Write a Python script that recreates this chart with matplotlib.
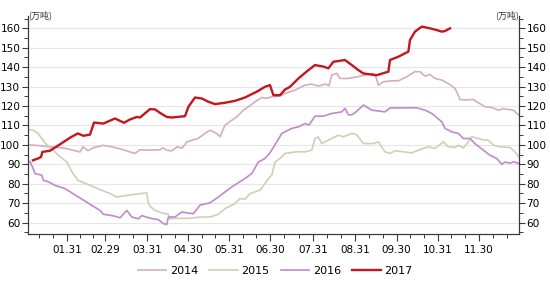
import matplotlib
matplotlib.use('Agg')
import matplotlib.pyplot as plt
import numpy as np

plt.rcParams['font.family'] = ['DejaVu Sans', 'Noto Sans CJK SC']

# x is a running trading-day index through the year, y in 10k tonnes
x14 = [1, 6, 11, 16, 19.5, 23.5, 26, 27.5, 30, 32.5, 37.5, 42, 46, 51, 53.5, 56, 61, 66, 67.5, 69.5,
       72, 74.5, 77, 79.5, 82, 85, 88.5, 91, 94.4, 96, 98.5, 101.9, 104.4, 107.7, 110.2, 113.5, 116.9,
       119.4, 121.9, 126, 128.5, 133.5, 138.5, 141.9, 145.2, 148.5, 150.5, 151.9, 154.4, 156, 160, 165,
       168.5, 172.5, 174, 175.2, 177.7, 181.9, 185.2, 189.4, 193.5, 196, 198.5, 201, 203.5, 206.9,
       210.2, 213.5, 214.5, 216, 218.5, 222.7, 225.2, 228.5, 231.9, 235.2, 237.7, 240.2, 242.7, 244.4, 245.5]
y14 = [100.0, 99.6, 99.0, 98.6, 98.1, 97.0, 96.4, 99.0, 97.0, 98.5, 99.8, 99.0, 98.0, 96.4, 95.6, 97.5,
       97.3, 97.5, 98.5, 97.2, 97.0, 99.0, 98.3, 101.6, 102.4, 103.3, 105.9, 107.6, 105.9, 104.2, 110.2,
       112.7, 114.4, 117.9, 119.6, 122.2, 124.4, 124.0, 124.8, 125.1, 126.5, 128.2, 130.8, 131.3, 130.3,
       131.3, 130.5, 136.0, 136.8, 134.2, 134.2, 135.1, 136.0, 136.8, 135.0, 130.8, 132.5, 133.0, 133.0,
       135.1, 137.7, 137.7, 135.4, 136.3, 134.2, 133.4, 131.6, 129.1, 127.0, 123.4, 123.1, 123.4, 121.7,
       119.6, 119.3, 117.9, 118.7, 118.2, 117.9, 116.2, 115.3]

x15 = [1, 2.5, 5, 8.5, 12.5, 16, 19.4, 22, 25, 28, 31, 36, 41, 44.4, 49.4, 53.5, 59.4, 60, 61, 63.5,
       67.5, 70, 71, 72.5, 79.5, 86.9, 91, 95.2, 98.5, 103.5, 106, 108.5, 111, 116, 118.5, 120.2, 121.9,
       123.5, 126, 128.5, 134.4, 138.5, 141.9, 143.5, 145.2, 146.9, 151.9, 155.2, 157.7, 161.9, 164.4,
       167.7, 172.7, 175.2, 178.5, 181, 183.5, 191.9, 196, 200.2, 203.5, 207.7, 210.2, 213.5, 215.2,
       217.7, 220.2, 221.9, 225.2, 227.7, 230.2, 232.7, 236, 241, 243.5, 245.5]
y15 = [107.8, 107.6, 106.0, 101.0, 97.3, 94.0, 91.2, 86.0, 81.8, 80.5, 79.2, 77.0, 75.0, 73.2, 74.0,
       74.6, 75.3, 70.6, 68.5, 66.3, 64.8, 64.5, 61.8, 62.2, 62.2, 62.9, 62.9, 64.3, 67.2, 69.8, 72.4,
       72.0, 75.0, 76.7, 80.1, 82.7, 84.5, 91.2, 93.0, 95.6, 96.5, 96.4, 97.3, 103.3, 104.1, 100.7, 103.3,
       105.0, 104.2, 105.9, 105.2, 100.7, 100.7, 101.6, 96.4, 95.6, 97.0, 95.9, 97.6, 99.0, 98.2, 101.6,
       99.0, 98.7, 99.8, 98.5, 101.6, 104.2, 103.3, 102.6, 102.4, 99.9, 99.0, 98.7, 96.4, 93.8]

x16 = [1, 2.5, 3.5, 6.9, 7.7, 10.2, 13.5, 18.5, 25.2, 31.9, 36, 37.7, 41, 43.5, 46, 49.4, 51.9, 55.2,
       56.9, 61, 65.2, 67.7, 69.4, 70.2, 73.5, 76.9, 79.5, 82.7, 86, 91, 95.2, 101.9, 108.5, 111.9, 115.2,
       118.5, 121, 123.5, 126.9, 131.9, 135.2, 138.5, 140.5, 143.5, 147.7, 151.9, 156.9, 158.5, 160.2,
       162, 164, 167.7, 171.9, 178.5, 181, 194.4, 198.5, 201.9, 206.9, 208.5, 211.9, 215.2, 217.7, 221,
       223.5, 227.7, 231, 234.4, 236.9, 238.5, 241, 242.7, 245.5]
y16 = [91.5, 88.0, 85.3, 84.4, 81.8, 81.0, 79.2, 77.5, 73.2, 68.9, 66.3, 64.3, 63.8, 63.3, 62.5, 66.3,
       62.9, 62.0, 63.6, 62.3, 61.5, 59.5, 59.0, 62.9, 62.9, 65.5, 65.0, 64.6, 69.0, 70.2, 73.2, 78.4,
       82.7, 85.3, 91.2, 93.0, 96.0, 100.0, 105.9, 108.5, 109.3, 111.0, 110.2, 114.8, 114.8, 116.2, 117.0,
       118.8, 115.5, 115.5, 117.0, 120.5, 117.9, 117.0, 119.0, 119.1, 117.9, 116.2, 111.9, 108.5, 106.7,
       105.9, 103.3, 103.3, 100.7, 97.3, 94.7, 93.0, 90.0, 91.2, 90.6, 91.3, 90.4]

x17 = [2.5, 5, 6.5, 7.2, 11, 16, 21, 24.9, 27.7, 31, 33, 37.7, 43.5, 48, 51, 54.4, 56, 61, 63.5, 66,
       69.4, 71.9, 78.5, 80.2, 83.5, 86.9, 90.2, 93.5, 98.5, 103.5, 108.5, 114.4, 118.5, 121, 122.7, 126,
       128.5, 131, 135.2, 140.2, 143.5, 147.7, 150.2, 152.7, 158.5, 161.9, 165.2, 167.7, 171, 174.4,
       180.2, 181, 185.2, 190.2, 191, 193.5, 196.9, 201, 204.4, 206.9, 208.5, 211]
y17 = [92.1, 93.0, 93.8, 96.4, 97.0, 100.3, 103.7, 105.9, 104.7, 105.3, 111.5, 111.0, 113.6, 111.4,
       113.1, 114.4, 114.1, 118.4, 118.3, 116.5, 114.4, 114.1, 114.8, 119.6, 124.4, 123.9, 122.2, 121.0,
       121.7, 122.7, 124.4, 127.4, 129.9, 130.8, 125.6, 125.6, 128.5, 129.9, 134.2, 138.5, 141.1, 140.3,
       139.4, 142.8, 143.7, 141.1, 138.5, 136.8, 136.3, 135.9, 137.7, 143.7, 145.4, 148.0, 154.0, 158.3,
       160.9, 160.0, 159.1, 158.3, 158.6, 160.0]

tick_pos = [19.75, 38.65, 59.75, 80.15, 100.5, 121, 142.5, 163.5, 184.35, 204.85, 225.5]
tick_lab = ['01.31', '02.29', '03.31', '04.30', '05.31', '06.30', '07.31', '08.31', '09.30', '10.31', '11.30']

years = ['2014', '2015', '2016', '2017']
cols = ['#d3aec0', '#cdd0b6', '#c387cf', '#c4161c']

fig = plt.figure(figsize=(5.5, 2.81), dpi=100)
ax = fig.add_axes([0.0509, 0.1662, 0.8927, 0.7779])

ax.plot(x14, y14, color=cols[0], lw=1.2, label=years[0])
ax.plot(x15, y15, color=cols[1], lw=1.2, label=years[1])
ax.plot(x16, y16, color=cols[2], lw=1.2, label=years[2])
ax.plot(x17, y17, color=cols[3], lw=1.7, label=years[3])

ax.set_xlim(0, 245.5)
ax.set_ylim(54, 166.5)

# y axis, same scale on both sides
yt = np.arange(60, 161, 10)
ax.set_yticks(yt)
ax.set_yticks(np.arange(55, 166, 5), minor=True)
ax.grid(axis='y', which='major', color='#e6e6e6', lw=0.8)
ax.set_axisbelow(True)

# x ticks: labelled month ends, two small ticks between each
mt = []
for i in range(len(tick_pos) - 1):
	step = (tick_pos[i + 1] - tick_pos[i]) / 3.0
	mt += [tick_pos[i] + step, tick_pos[i] + 2 * step]
mt += [tick_pos[0] - 14, tick_pos[0] - 7, tick_pos[-1] + 7, tick_pos[-1] + 14]
ax.set_xticks(tick_pos)
ax.set_xticklabels(tick_lab)
ax.set_xticks(mt, minor=True)

ax.spines['top'].set_visible(False)
for s in ['left', 'right', 'bottom']:
	ax.spines[s].set_color('#3a3a3a')
	ax.spines[s].set_linewidth(0.9)

ax.tick_params(axis='y', which='major', length=4.5, width=0.8, color='#3a3a3a', labelsize=7.6, pad=1,
	left=True, right=True, labelleft=True, labelright=True)
ax.tick_params(axis='y', which='minor', length=3, width=0.7, color='#3a3a3a', left=True, right=True)
ax.tick_params(axis='x', which='major', length=5, width=0.8, color='#3a3a3a', labelsize=7.5, pad=3)
ax.tick_params(axis='x', which='minor', length=3, width=0.7, color='#3a3a3a')

# unit labels
ax.text(0.0, 1.0, '(万吨)', transform=ax.transAxes, fontsize=6.5, ha='left', va='center',
	family=['Noto Sans CJK SC', 'DejaVu Sans'], color='#333333')
ax.text(1.0, 1.0, '(万吨)', transform=ax.transAxes, fontsize=6.5, ha='right', va='center',
	family=['Noto Sans CJK SC', 'DejaVu Sans'], color='#333333')

fig.legend(loc='center', bbox_to_anchor=(0.5, 1 - 271 / 281.0), ncol=4, frameon=False, fontsize=8,
	handlelength=2.6, columnspacing=1.0, handletextpad=0.3)

fig.savefig('out.png', dpi=100)
